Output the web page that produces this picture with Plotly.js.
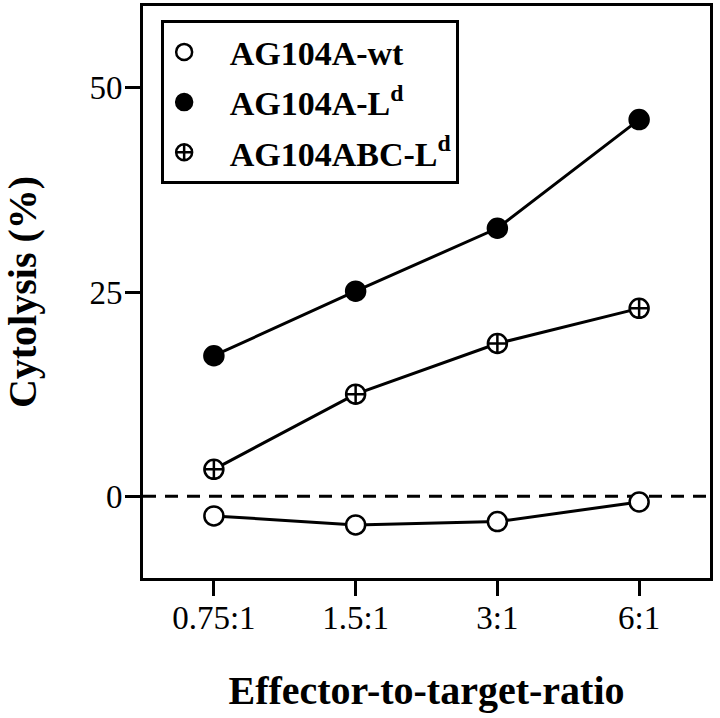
<!DOCTYPE html>
<html>
<head>
<meta charset="utf-8">
<script src="https://cdn.plot.ly/plotly-3.0.1.min.js"></script>
<style>html,body{margin:0;padding:0;background:#fff;}#chart{width:720px;height:718px;}</style>
</head>
<body>
<div id="chart"></div>
<script>
var categories = ["0.75:1", "1.5:1", "3:1", "6:1"];
var seriesNames = ["AG104A-wt", "AG104A-L<sup>d</sup>", "AG104ABC-L<sup>d</sup>"];
var wtValues = [-2.4, -3.5, -3.1, -0.7];
var ldValues = [17.2, 25.1, 32.8, 46.1];
var abcLdValues = [3.3, 12.5, 18.7, 23.0];
var yTickValues = [0, 25, 50];

var xIdx = categories.map(function (c, i) { return i; });
var font = "Liberation Serif, Times New Roman, serif";
var symbols = ["circle", "circle", "circle-cross"];
var fills = ["#fff", "#000", "#fff"];
var valuesList = [wtValues, ldValues, abcLdValues];

var data = [];
// plotted lines + markers (not in legend)
valuesList.forEach(function (vals, i) {
  data.push({
    x: xIdx, y: vals, name: seriesNames[i], type: "scatter", mode: "lines+markers",
    showlegend: false, legendgroup: "g" + i,
    line: {color: "#000", width: 3},
    marker: {symbol: symbols[i], size: 19, color: fills[i], line: {color: "#000", width: 2.5}},
    cliponaxis: false
  });
});
// legend entries: marker only
valuesList.forEach(function (vals, i) {
  data.push({
    x: [null], y: [null], name: "\u00a0\u00a0\u00a0" + seriesNames[i], type: "scatter", mode: "markers",
    showlegend: true, legendgroup: "g" + i,
    marker: {symbol: symbols[i], size: 16, color: fills[i], line: {color: "#000", width: 2.5}}
  });
});

var axisCommon = {
  showline: true, linecolor: "#000", linewidth: 3, mirror: true,
  ticks: "outside", ticklen: 15, tickwidth: 3, tickcolor: "#000",
  showgrid: false, zeroline: false,
  tickfont: {family: font, size: 33, color: "#000"}
};

var layout = {
  width: 720, height: 718,
  margin: {l: 143, r: 10, t: 6, b: 140},
  paper_bgcolor: "#fff", plot_bgcolor: "#fff",
  showlegend: true,
  legend: {
    x: 0.032, y: 0.975, xanchor: "left", yanchor: "top",
    bgcolor: "#fff", bordercolor: "#000", borderwidth: 3,
    font: {family: font, size: 34, color: "#000", weight: "bold"},
    itemwidth: 30, tracegroupgap: 3,
    traceorder: "grouped"
  },
  xaxis: Object.assign({}, axisCommon, {
    range: [-0.5, 3.5], tickmode: "array", tickvals: xIdx, ticktext: categories,
    ticklabelstandoff: -7,
    title: {text: "<b>Effector-to-target-ratio</b>", font: {family: font, size: 40, color: "#000"}, standoff: 42}
  }),
  yaxis: Object.assign({}, axisCommon, {
    range: [-10, 60], tickmode: "array", tickvals: yTickValues, ticktext: yTickValues.map(String),
    ticklabelstandoff: -4,
    title: {text: "<b>Cytolysis (%)</b>", font: {family: font, size: 40, color: "#000"}, standoff: 44}
  }),
  shapes: [{
    type: "line", xref: "paper", yref: "y", x0: 0, x1: 1, y0: 0, y1: 0,
    line: {color: "#000", width: 3, dash: "13px,9px"}, layer: "below"
  }]
};

Plotly.newPlot("chart", data, layout, {displayModeBar: false, staticPlot: true});
</script>
</body>
</html>
